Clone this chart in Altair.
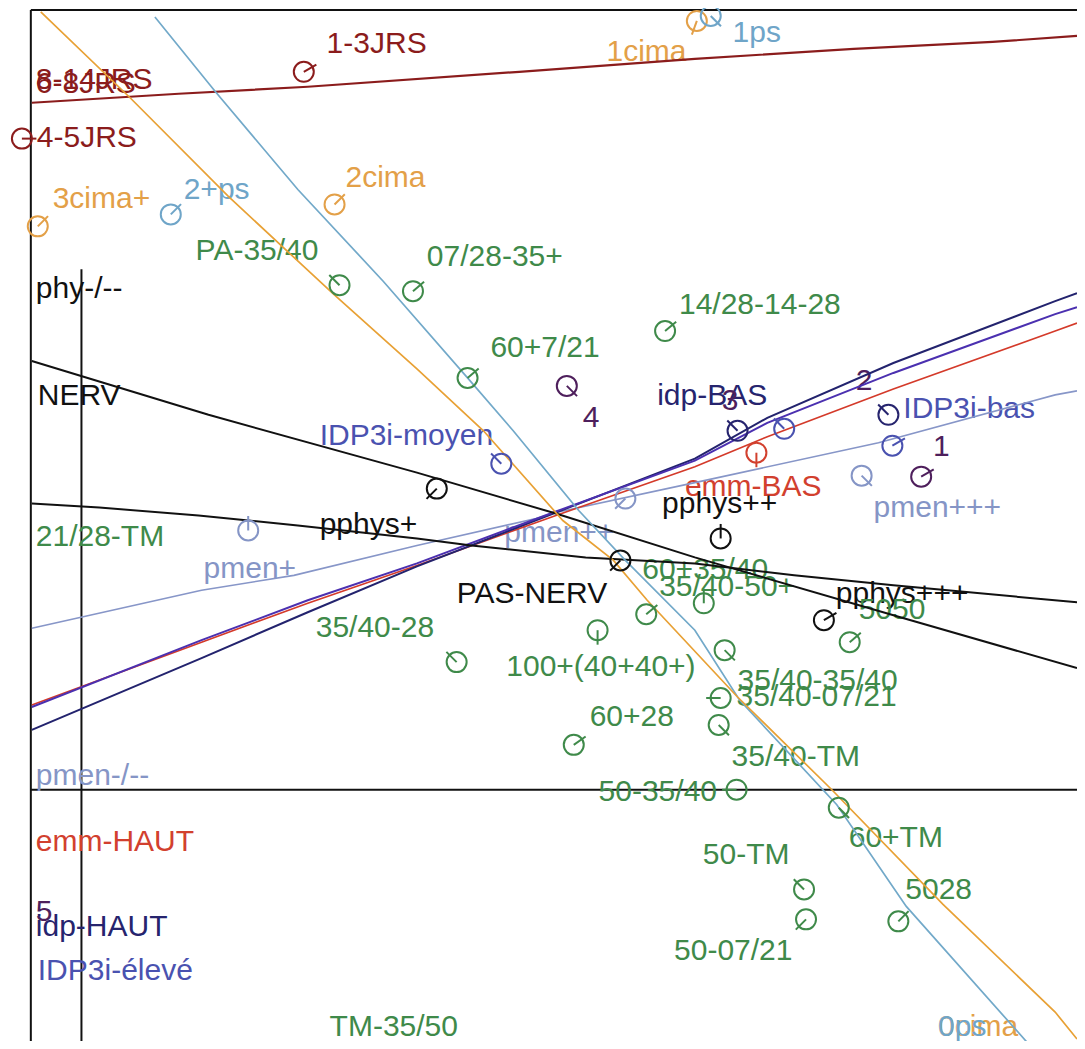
import altair as alt
import pandas as pd

# ---------------- data (picture-pixel coordinates) ----------------
# lines
jrs_x = [32, 180, 310, 523, 700, 860, 1000, 1085]
jrs_y = [101, 92, 85, 70, 57, 47, 40, 34]
cima_x = [41, 132, 230, 336, 420, 487, 567, 618, 652, 743, 838, 950, 1063, 1085]
cima_y = [10, 97, 195, 293, 368, 430, 520, 560, 600, 697, 790, 905, 1013, 1040]
ps_x = [156, 217, 300, 386, 471, 517, 583, 630, 700, 745, 843, 913, 1038]
ps_y = [15, 90, 188, 280, 377, 430, 510, 560, 630, 700, 805, 907, 1047]
nerv_x = [32, 210, 420, 560, 700, 907, 1085]
nerv_y = [360, 414, 472, 513, 557, 617, 668]
pasnerv_x = [32, 100, 200, 300, 420, 475, 590, 700, 800, 900, 1085]
pasnerv_y = [503, 507, 515, 525, 538, 545, 557, 563, 575, 585, 602]
idp_x = [32, 203, 310, 420, 560, 700, 773, 900, 1063, 1085]
idp_y = [730, 658, 612, 566, 512, 458, 417, 362, 300, 292]
idp3i_x = [32, 203, 310, 420, 560, 700, 773, 900, 1063, 1085]
idp3i_y = [707, 640, 600, 563, 511, 460, 422, 372, 313, 306]
emm_x = [32, 203, 310, 420, 560, 700, 773, 900, 1063, 1085]
emm_y = [705, 642, 603, 565, 515, 466, 436, 388, 330, 322]
pmen_x = [32, 203, 296, 420, 540, 560, 700, 885, 1063, 1085]
pmen_y = [628, 590, 575, 545, 518, 512, 482, 442, 394, 390]

# frame / reference lines
frame_x = [31, 31, 82, 31]
frame_x2 = [1085, 31, 82, 1085]
frame_y = [8, 8, 268, 790]
frame_y2 = [8, 1049, 1049, 790]

# labels
label_text = ["1-3JRS", "8-14JRS", "6-8JRS", "4-5JRS", "1cima", "1ps", "2cima", "3cima+", "2+ps",
              "PA-35/40", "07/28-35+", "phy-/--", "14/28-14-28", "60+7/21", "NERV", "4", "idp-BAS",
              "3", "2", "IDP3i-bas", "IDP3i-moyen", "1", "emm-BAS", "pphys++", "pmen+++", "21/28-TM",
              "pphys+", "pmen++", "pmen+", "60+35/40", "35/40-50+", "PAS-NERV", "pphys+++", "5050",
              "35/40-28", "100+(40+40+)", "35/40-35/40", "35/40-07/21", "60+28", "35/40-TM",
              "pmen-/--", "50-35/40", "60+TM", "emm-HAUT", "50-TM", "5028", "5", "idp-HAUT",
              "50-07/21", "IDP3i-élevé", "TM-35/50", "0cima", "0ps"]
label_x = [329, 36, 36, 37, 611, 738, 348, 53, 185,
           197, 430, 36, 684, 494, 38, 587, 662,
           727, 862, 910, 322, 940, 690, 667, 880, 36,
           322, 508, 205, 647, 664, 460, 842, 865,
           318, 510, 743, 742, 594, 737,
           36, 603, 855, 36, 708, 912, 36, 36,
           679, 38, 332, 945, 945]
label_y = [42, 78, 82, 136, 50, 31, 176, 198, 189,
           250, 256, 288, 304, 347, 395, 417, 395,
           400, 380, 408, 435, 446, 486, 503, 507, 537,
           524, 533, 569, 570, 587, 594, 594, 610,
           628, 667, 681, 697, 717, 757,
           776, 792, 838, 842, 855, 891, 913, 928,
           952, 972, 1028, 1028, 1028]
label_group = ["jrs", "jrs", "jrs", "jrs", "cima", "ps", "cima", "cima", "ps",
               "green", "green", "black", "green", "green", "black", "purple", "navy",
               "purple", "purple", "idp3i", "idp3i", "purple", "emm", "black", "pmen", "green",
               "black", "pmen", "pmen", "green", "green", "black", "black", "green",
               "green", "green", "green", "green", "green", "green",
               "pmen", "green", "green", "emm", "green", "green", "purple", "navy",
               "green", "idp3i", "green", "cima", "ps"]

# point markers (circle + direction tick)
mark_x = [306, 22, 702, 337, 38, 716, 172,
          342, 416, 670, 471, 602, 651, 709, 730, 856, 726, 724, 578, 742, 845, 810, 812, 905, 460,
          440, 625, 726, 830, 743, 895, 505, 790, 899, 762, 250, 630, 868, 571, 928]
mark_y = [70, 137, 19, 203, 225, 14, 213,
          284, 290, 330, 377, 630, 614, 603, 650, 642, 698, 725, 745, 790, 808, 890, 920, 922, 662,
          488, 560, 538, 620, 430, 414, 463, 428, 445, 452, 530, 498, 475, 385, 476]
mark_group = ["jrs", "jrs", "cima", "cima", "cima", "ps", "ps",
              "green", "green", "green", "green", "green", "green", "green", "green", "green", "green",
              "green", "green", "green", "green", "green", "green", "green", "green",
              "black", "black", "black", "black", "navy", "navy", "idp3i", "idp3i", "idp3i", "emm",
              "pmen", "pmen", "pmen", "purple", "purple"]
mark_angle = [60, 90, 200, 45, 45, 135, 45,
              315, 50, 50, 50, 180, 50, 0, 135, 50, 270, 135, 55, 270, 135, 315, 225, 45, 315,
              225, 225, 0, 60, 315, 315, 315, 315, 60, 180, 0, 225, 135, 135, 60]

groups = ["jrs", "cima", "ps", "green", "black", "navy", "idp3i", "emm", "pmen", "purple"]
group_colors = ["#8b1c1c", "#e3a048", "#6fa5c8", "#3f8a4a", "#111111", "#26246e",
                "#4a52b0", "#d2402e", "#8595c6", "#4e1f5c"]

# ---------------- chart ----------------
W, H = 1069, 1033
xsc = alt.Scale(domain=[8, 1085], nice=False, zero=False)
ysc = alt.Scale(domain=[6, 1042], nice=False, zero=False, reverse=True)
csc = alt.Scale(domain=groups, range=group_colors)

frame_df = pd.DataFrame({"x": frame_x, "x2": frame_x2, "y": frame_y, "y2": frame_y2})
frame = alt.Chart(frame_df).mark_rule(color="#111111", strokeWidth=2).encode(
    x=alt.X("x:Q", scale=xsc, axis=None), x2="x2:Q",
    y=alt.Y("y:Q", scale=ysc, axis=None), y2="y2:Q")

line_specs = [
    (jrs_x, jrs_y, "#8b1c1c", 2.2),
    (pmen_x, pmen_y, "#8796c8", 1.6),
    (emm_x, emm_y, "#d43a2a", 1.6),
    (idp_x, idp_y, "#23236e", 2.0),
    (idp3i_x, idp3i_y, "#4b30b0", 2.0),
    (nerv_x, nerv_y, "#111111", 2.0),
    (pasnerv_x, pasnerv_y, "#111111", 2.0),
    (ps_x, ps_y, "#72a9c9", 1.7),
    (cima_x, cima_y, "#e8a135", 1.7),
]
line_layers = []
for lx, ly, col, sw in line_specs:
    df = pd.DataFrame({"x": lx, "y": ly, "i": list(range(len(lx)))})
    line_layers.append(
        alt.Chart(df).mark_line(color=col, strokeWidth=sw).encode(
            x=alt.X("x:Q", scale=xsc, axis=None),
            y=alt.Y("y:Q", scale=ysc, axis=None),
            order="i:Q"))

lab_df = pd.DataFrame({"t": label_text, "x": label_x, "y": label_y, "g": label_group})
labels = alt.Chart(lab_df).mark_text(
    align="left", baseline="middle", fontSize=30, font="Liberation Sans"
).encode(
    x=alt.X("x:Q", scale=xsc, axis=None),
    y=alt.Y("y:Q", scale=ysc, axis=None),
    text="t:N",
    color=alt.Color("g:N", scale=csc, legend=None))

mk_df = pd.DataFrame({"x": mark_x, "y": mark_y, "g": mark_group, "a": mark_angle})
circles = alt.Chart(mk_df).mark_point(shape="circle", filled=False, size=400, strokeWidth=2,
                                      opacity=1).encode(
    x=alt.X("x:Q", scale=xsc, axis=None),
    y=alt.Y("y:Q", scale=ysc, axis=None),
    color=alt.Color("g:N", scale=csc, legend=None))
ticks = alt.Chart(mk_df).mark_point(shape="M0,0L0,-1.45", filled=False, size=400, strokeWidth=2,
                                    opacity=1).encode(
    x=alt.X("x:Q", scale=xsc, axis=None),
    y=alt.Y("y:Q", scale=ysc, axis=None),
    angle=alt.Angle("a:Q", scale=None),
    color=alt.Color("g:N", scale=csc, legend=None))

chart = alt.layer(frame, labels, *line_layers, circles, ticks).properties(
    width=W, height=H, padding=0, background="white",
    autosize=alt.AutoSizeParams(type="none")
).configure_view(stroke=None)

chart.save("out.html", embed_options={"renderer": "svg", "actions": False})
